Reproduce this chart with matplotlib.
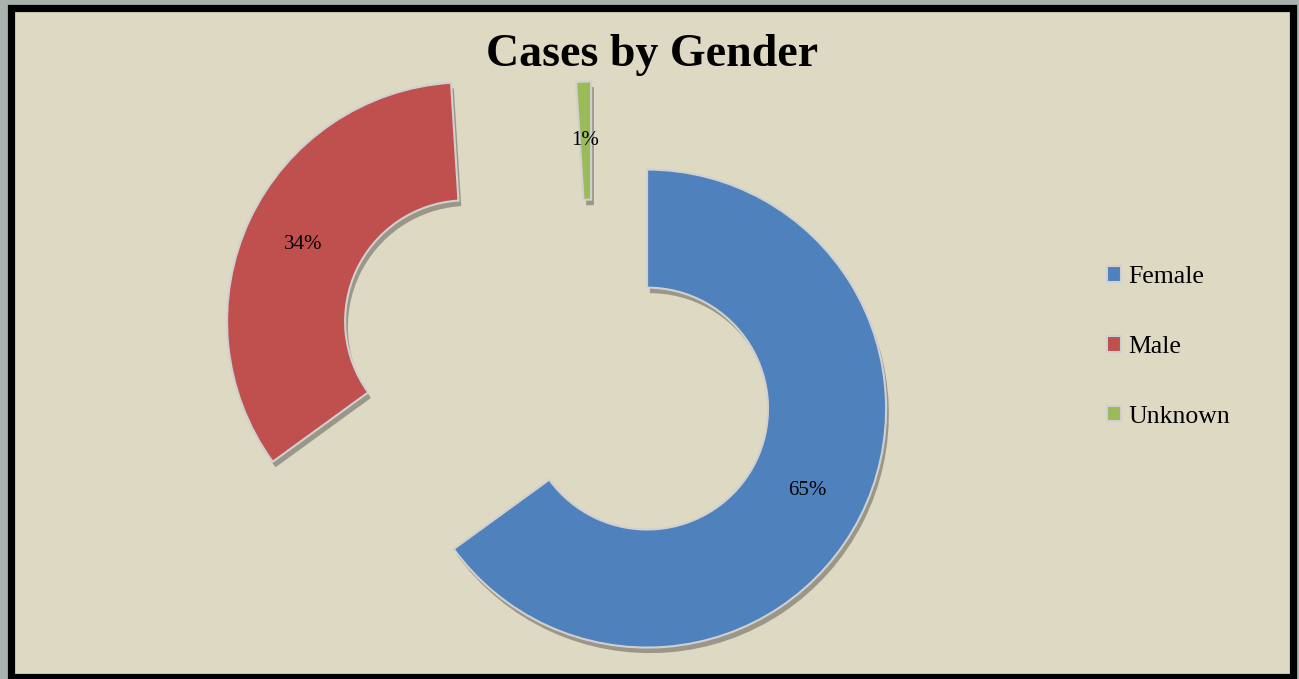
import matplotlib.pyplot as plt
import matplotlib.patheffects as pe
from matplotlib.patches import Rectangle

# datos del grafico
categorias = ["Female", "Male", "Unknown"]
valores = [65, 34, 1]
separacion = [0.254, 0.587, 0.253]
colores = ["#4F81BD", "#C0504D", "#9BBB59"]

fig = plt.figure(figsize=(12.99, 6.79), dpi=100)
fig.patch.set_facecolor("#A9B3AE")

# fondo y borde negro
fondo = Rectangle((10.5 / 1299, 2.5 / 679), (1293 - 10.5) / 1299, (676.5 - 8) / 679,
                  transform=fig.transFigure, facecolor="#DDD9C3", edgecolor="black",
                  linewidth=5.2, zorder=-5)
fig.patches.append(fondo)

ax = fig.add_axes([0, 0, 1, 1])
ax.set_facecolor("none")
ax.set_zorder(2)
R = 239.0
cx, cy = 593.0, 381.0

sombra = [pe.SimplePatchShadow(offset=(2, -4), shadow_rgbFace="black", alpha=0.3), pe.Normal()]

wedges, textos, pcts = ax.pie(valores, colors=colores, explode=separacion, startangle=90,
                              counterclock=False, radius=1, autopct="%1.0f%%",
                              pctdistance=0.753, labels=None,
                              wedgeprops=dict(width=0.494, edgecolor="#D0D0D0", linewidth=1.5,
                                              path_effects=sombra),
                              textprops=dict(family="Liberation Serif", fontsize=15, color="black"))
ax.set_aspect("auto")
ax.set_xlim(-cx / R, (1299 - cx) / R)
ax.set_ylim((cy - 679) / R, cy / R)
ax.axis("off")

fig.text(652 / 1299, 1 - 55 / 679, "Cases by Gender", ha="center", va="center",
         family="Liberation Serif", fontweight="bold", fontsize=33)

leg = fig.legend(wedges, categorias, loc="center left",
                 bbox_to_anchor=(1084 / 1299, 1 - 347 / 679), frameon=False,
                 prop=dict(family="Liberation Serif", size=18.5), labelspacing=1.86,
                 handlelength=0.55, handleheight=0.55, handletextpad=0.28)
for h in leg.legend_handles:
    h.set_path_effects([])

fig.savefig("out.png", dpi=100, facecolor=fig.get_facecolor())
